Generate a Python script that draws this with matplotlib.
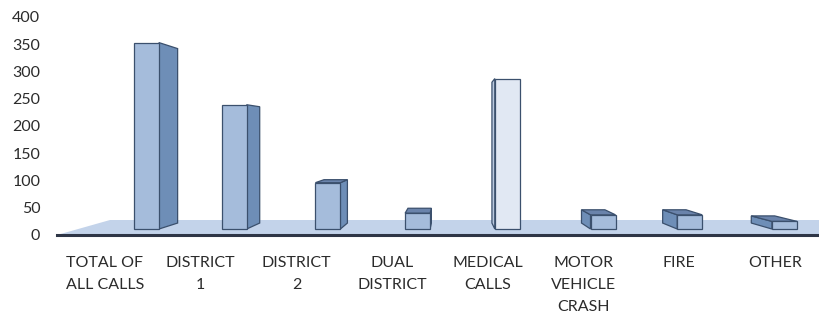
import matplotlib
matplotlib.use("Agg")
import matplotlib.pyplot as plt
from matplotlib.patches import Polygon

categories = ["TOTAL OF\nALL CALLS", "DISTRICT\n1", "DISTRICT\n2", "DUAL\nDISTRICT",
              "MEDICAL\nCALLS", "MOTOR\nVEHICLE\nCRASH", "FIRE", "OTHER"]
values = [342, 228, 85, 29, 276, 26, 26, 14]
yticks = [0, 50, 100, 150, 200, 250, 300, 350, 400]

W, H, DPI = 819, 319, 100
fig = plt.figure(figsize=(W / DPI, H / DPI), dpi=DPI)
fig.patch.set_facecolor("white")

# axes placement in pixels
ax_left, ax_right = 57, 819
y0_px, y400_px = 235, 17
ax_top = 8
ax = fig.add_axes([ax_left / W, 1 - y0_px / H, (ax_right - ax_left) / W, (y0_px - ax_top) / H])
ax.set_facecolor("none")

px_x = 95.7                      # pixels per category
px_y = (y0_px - y400_px) / 400   # pixels per value unit
xmin = (ax_left - 105) / px_x
xmax = (ax_right - 105) / px_x
ymax = (y0_px - ax_top) / px_y
ax.set_xlim(xmin, xmax)
ax.set_ylim(0, ymax)

# floor (3D base)
floor_h = 15 / px_y
floor = Polygon([(xmin, 0), (xmin + 53 / px_x, floor_h), (xmax, floor_h), (xmax, 0)],
                closed=True, facecolor="#c3d3ea", edgecolor="none", zorder=1)
ax.add_patch(floor)

# bars with pseudo-3D perspective faces
base = 6 / px_y
off_px = [29, 21, 19, 13, 7, 7, -2, -3]
front_w = 25 / px_x
vx = (450 - 105) / px_x          # vanishing point (data units)
vy = (y0_px - 136) / px_y
f = 0.064                        # depth fraction toward vanishing point
fronts = ["#a5bcdb"] * 8
fronts[4] = "#e1e8f3"
sides = ["#6e8eb7"] * 8
sides[4] = "#b9c8de"
tops = ["#6a83ab"] * 8
edge = "#3b506d"

xs = [i + off_px[i] / px_x for i in range(len(values))]
ax.bar(xs, values, width=front_w, bottom=base, align="edge", color=fronts,
       edgecolor=edge, linewidth=0.9, zorder=3)


def bk(x, y):
    return (x + (vx - x) * f, y + (vy - y) * f)


for i, v in enumerate(values):
    xl = xs[i]
    xr = xl + front_w
    top = base + v
    if xr < vx:
        xe = xr
    elif xl > vx:
        xe = xl
    else:
        xe = None
    if xe is not None:
        side = [(xe, base), bk(xe, base), bk(xe, top), (xe, top)]
        ax.add_patch(Polygon(side, closed=True, facecolor=sides[i], edgecolor=edge,
                             linewidth=0.9, zorder=2.5))
    if top < vy:
        topf = [(xl, top), bk(xl, top), bk(xr, top), (xr, top)]
        ax.add_patch(Polygon(topf, closed=True, facecolor=tops[i], edgecolor=edge,
                             linewidth=0.9, zorder=2.6))

for s in ["top", "right", "left"]:
    ax.spines[s].set_visible(False)
ax.spines["bottom"].set_color("#2e3546")
ax.spines["bottom"].set_linewidth(2.2)
ax.spines["bottom"].set_zorder(4)

font = "Lato"
ax.set_yticks(yticks)
ax.set_yticklabels([str(t) for t in yticks], fontsize=11.5, color="#2b2b2b", family=font)
ax.tick_params(axis="y", length=0, pad=12)
ax.set_xticks(range(len(categories)))
ax.set_xticklabels(categories, fontsize=11.5, color="#2b2b2b", family=font,
                   linespacing=1.75, va="top")
ax.tick_params(axis="x", length=0, pad=15)

fig.savefig("out.png", dpi=DPI, facecolor="white")
